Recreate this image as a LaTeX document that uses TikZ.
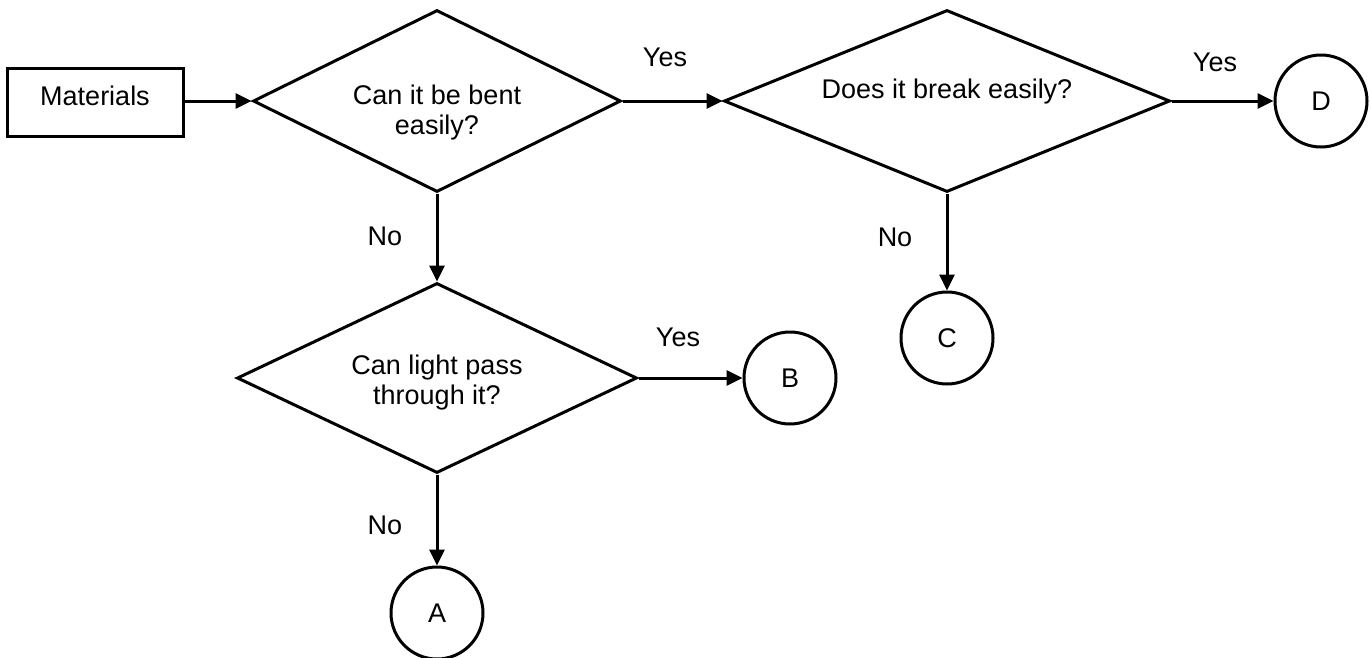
\documentclass[tikz,border=0pt]{standalone}
\usepackage{fontspec}
\setmainfont{Liberation Sans}
\usepackage{xcolor}
\usepackage{tikz}
\usetikzlibrary{arrows.meta,shapes.geometric}
\definecolor{paper}{HTML}{FFFFFF}
\definecolor{ink}{HTML}{000000}
\tikzset{
  base/.style={draw=ink, line width=3pt, line join=miter},
  arr/.style={draw=ink, line width=3pt, -{Triangle[length=16pt,width=15pt]}},
  lab/.style={text=ink, font=\fontsize{27}{30}\selectfont, inner sep=0pt},
  qtext/.style={lab, align=center},
  box/.style={base, lab, rectangle, minimum width=176pt, minimum height=68pt, text depth=13pt},
  decision/.style={base, diamond, inner sep=0pt},
  term/.style={base, lab, circle, minimum size=92pt},
}
\begin{document}
\begin{tikzpicture}[x=1pt, y=-1pt]
\fill[paper] (0,0) rectangle (1371,657);
\useasboundingbox (0,0) rectangle (1371,657);

\node[box] (mat) at (95,102) {Materials};

\node[decision, minimum width=368pt, minimum height=182pt] (bent) at (437,101) {};
\node[qtext, yshift=-12pt] (bentt) at (bent) {Can it be bent\\easily?};

\node[decision, minimum width=446pt, minimum height=182pt] (brk) at (947,101) {};
\node[qtext, yshift=9pt] (brkt) at (brk) {Does it break easily?};

\node[decision, minimum width=400pt, minimum height=190pt] (light) at (437,378) {};
\node[qtext, yshift=-5pt] (lightt) at (light) {Can light pass\\through it?};

\node[term] (A) at (437,613) {A};
\node[term] (B) at (790,378) {B};
\node[term] (C) at (947,338) {C};
\node[term] (D) at (1321,101) {D};

\draw[arr] (mat.east |- bent.west) -- (bent.west);
\draw[arr] (bent.east) -- (brk.west);
\draw[arr] (brk.east) -- (D.west);
\draw[arr] (brk.south) -- (C.north);
\draw[arr] (bent.south) -- (light.north);
\draw[arr] (light.east) -- (B.west);
\draw[arr] (light.south) -- (A.north);

\node[lab] (yes1) at (665,57) {Yes};
\node[lab] (yes2) at (1215,62) {Yes};
\node[lab] (yes3) at (678,337) {Yes};
\node[lab] (no1) at (385,236) {No};
\node[lab] (no2) at (895,237) {No};
\node[lab] (no3) at (385,525) {No};
\end{tikzpicture}
\end{document}
